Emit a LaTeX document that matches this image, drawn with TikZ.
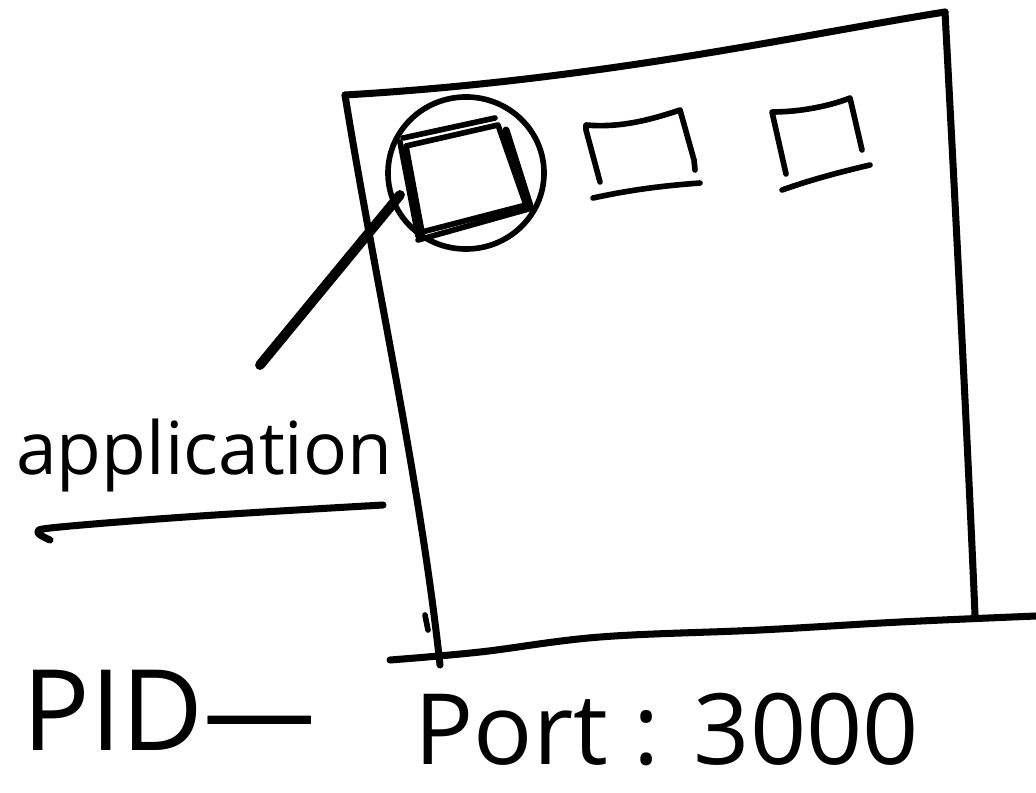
\documentclass[tikz,border=0pt]{standalone}
\usepackage{fontspec}
\setmainfont{Open Sans}
\usetikzlibrary{shapes.geometric}
\begin{document}
\begin{tikzpicture}[x=0.025cm,y=-0.025cm,line cap=round,line join=round,
  ink/.style={line width=5pt,black},
  thinink/.style={line width=4pt,black},
  boldink/.style={line width=7pt,black},
  lbl/.style={inner sep=0pt,text=black}]
\useasboundingbox (0,0) rectangle (1036,793);
% frame of the window
\coordinate (tl) at (345,95);
\coordinate (tr) at (945,12);
\coordinate (br) at (975,615);
\coordinate (bl) at (440,665);
\draw[ink] (tl) .. controls (600,80) and (800,35) .. (tr);
\draw[ink] (tr) .. controls (955,200) and (968,450) .. (br);
\draw[ink] (tl) .. controls (375,280) and (420,480) .. (bl);
\draw[thinink] (425,615) -- (428,630);
\draw[ink] plot[smooth,tension=0.6] coordinates {(390,660) (480,652) (600,637) (760,630) (900,622) (1036,616)};
% selected application icon
\node[draw,thinink,ellipse,minimum width=3.9cm,minimum height=3.8cm,inner sep=0pt] (circ) at (466,173) {};
\draw[thinink] (406,146) -- (498,125) -- (526,205) -- (422,232) -- cycle;
\draw[thinink] (403,138) -- (495,118);
\draw[ink] (506,130) -- (530,206);
\draw[thinink] (418,240) -- (532,208);
\draw[thinink] (400,142) -- (418,236);
% other icons
\draw[thinink] (600,182) -- (586,130) -- (586,125) .. controls (620,128) and (650,120) .. (680,110) -- (694,160) -- (695,170);
\draw[thinink] (593,198) .. controls (630,190) and (660,186) .. (700,183);
\draw[thinink] (786,174) -- (772,112) .. controls (800,112) and (830,106) .. (850,98) -- (862,150);
\draw[thinink] (782,190) .. controls (810,180) and (840,172) .. (870,165);
% label and pointer
\coordinate (ptrA) at (260,365);
\coordinate (ptrB) at (400,195);
\draw[boldink] (ptrA) -- (ptrB);
\node[lbl,anchor=base west,font=\fontsize{52}{58}\selectfont] (app) at (16,474) {application};
\draw[ink] plot[smooth,tension=0.6] coordinates {(50,540) (38,532) (60,527) (200,516) (383,505)};
% bottom texts
\node[lbl,anchor=base west,font=\fontsize{80}{90}\selectfont] (pid) at (22,750) {PID—};
\node[lbl,anchor=base west,font=\fontsize{70}{80}\selectfont] (port) at (414,764) {Port : 3000};
\end{tikzpicture}
\end{document}
